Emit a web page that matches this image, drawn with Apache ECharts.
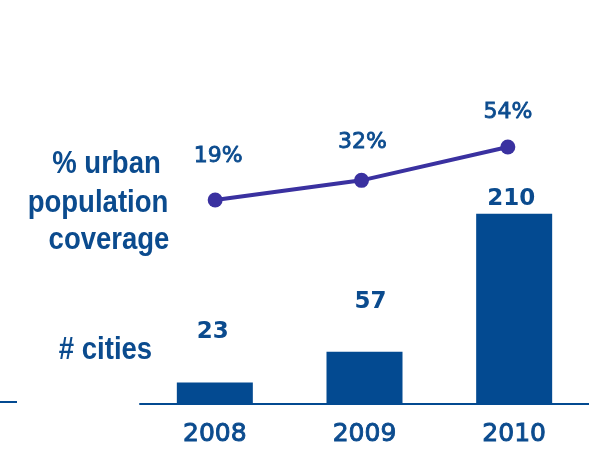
<!DOCTYPE html>
<html>
<head>
<meta charset="utf-8">
<script src="https://cdn.jsdelivr.net/npm/echarts@6/dist/echarts.min.js"></script>
<style>
html, body { margin: 0; padding: 0; background: #ffffff; }
#chart { width: 589px; height: 452px; }
</style>
</head>
<body>
<div id="chart"></div>
<script>
// Years on the category axis
const years = ['2008', '2009', '2010'];
// Number of cities covered
const cities = [23, 57, 210];
// Share of urban population covered (%)
const coverage = [19, 32, 54];

// Per-point label tweaks (distance above mark, horizontal nudge)
const cityLabelDist = [39, 38, 3];
const cityLabelShift = [-2, 6, -3];
const coverageLabelDist = [25, 20, 16];
const coverageLabelShift = [3, 1, 0];

const BLUE = '#034a91';
const TEXT = '#0b4b8e';
const PURPLE = '#3a31a0';

const chart = echarts.init(document.getElementById('chart'), null, { renderer: 'canvas' });

// Row captions on the left, drawn in a condensed bold face
function caption(text, x, y) {
  return {
    type: 'text', x: x, y: y, scaleX: 0.86,
    style: {
      text: text, fill: TEXT,
      font: 'bold 32px "Liberation Sans", Arial, sans-serif',
      textAlign: 'center', textVerticalAlign: 'middle'
    }
  };
}

chart.setOption({
  backgroundColor: '#ffffff',
  animation: false,
  grid: [
    { left: 140, right: -1, top: 177.5, bottom: 48.7 },
    { left: 142, right: 8, top: 77.4, bottom: 223.2 }
  ],
  xAxis: [
    {
      type: 'category', gridIndex: 0, data: years,
      axisLine: { show: true, lineStyle: { color: BLUE, width: 2 } },
      axisTick: { show: false },
      axisLabel: {
        color: TEXT, fontFamily: 'DejaVu Sans', fontSize: 25, margin: 19,
        textBorderColor: TEXT, textBorderWidth: 0.9
      }
    },
    {
      type: 'category', gridIndex: 1, data: years,
      axisLine: { show: false }, axisTick: { show: false }, axisLabel: { show: false }
    }
  ],
  yAxis: [
    { type: 'value', gridIndex: 0, min: 0, max: 250, show: false },
    { type: 'value', gridIndex: 1, min: 0, max: 100, show: false }
  ],
  series: [
    {
      type: 'bar', xAxisIndex: 0, yAxisIndex: 0, barWidth: 76,
      itemStyle: { color: BLUE },
      label: {
        show: true, position: 'top', color: TEXT,
        fontFamily: 'DejaVu Sans', fontWeight: 'bold', fontSize: 23
      },
      data: cities.map((v, i) => ({
        value: v,
        label: { distance: cityLabelDist[i], offset: [cityLabelShift[i], 0] }
      }))
    },
    {
      type: 'line', xAxisIndex: 1, yAxisIndex: 1,
      symbol: 'circle', symbolSize: 15,
      lineStyle: { color: PURPLE, width: 4 },
      itemStyle: { color: PURPLE },
      label: {
        show: true, position: 'top', color: TEXT,
        fontFamily: 'DejaVu Sans', fontSize: 22,
        textBorderColor: TEXT, textBorderWidth: 0.8,
        formatter: p => p.value + '%'
      },
      data: coverage.map((v, i) => ({
        value: v,
        label: { distance: coverageLabelDist[i], offset: [coverageLabelShift[i], 0] }
      }))
    }
  ],
  graphic: [
    { type: 'line', shape: { x1: 0, y1: 402, x2: 17, y2: 402 }, style: { stroke: BLUE, lineWidth: 2 } },
    caption('% urban', 106.5, 164),
    caption('population', 98, 203),
    caption('coverage', 109, 240),
    caption('# cities', 105.5, 350)
  ]
});
</script>
</body>
</html>
